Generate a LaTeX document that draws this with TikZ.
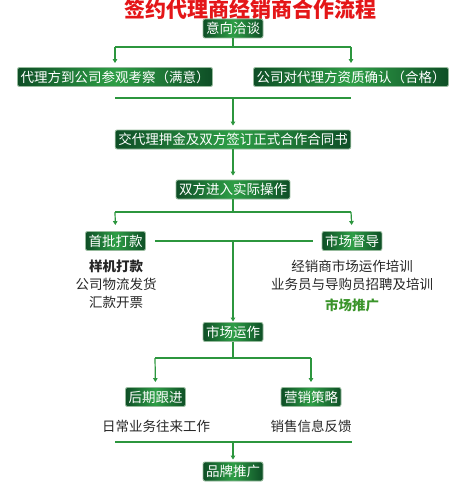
\documentclass[tikz,border=0pt]{standalone}
\usepackage{fontspec}
\setmainfont{Noto Sans CJK SC}
\usetikzlibrary{arrows.meta}
\definecolor{dkgreen}{RGB}{14,78,38}
\definecolor{ltgreen}{RGB}{46,158,70}
\definecolor{linegreen}{RGB}{44,150,62}
\definecolor{rimgrey}{RGB}{150,186,156}
\definecolor{titlered}{RGB}{228,22,24}
\definecolor{txtgrey}{RGB}{38,38,38}
\definecolor{pushgreen}{RGB}{58,148,42}
\tikzset{
  stagebox/.style={draw=rimgrey,line width=0.9pt,rounded corners=2pt,
    left color=dkgreen,right color=dkgreen,middle color=ltgreen,
    text=white,font=\fontsize{13.5}{14}\selectfont,
    inner xsep=3pt,inner ysep=0pt,minimum height=19pt},
  note/.style={text=txtgrey,font=\fontsize{13.5}{14}\selectfont,inner sep=0pt},
  flow/.style={linegreen,line width=1.2pt},
  flowarrow/.style={flow,-{Triangle[width=4.5pt,length=4pt]}},
}
\newcommand{\setup}{
    \coordinate (j1) at (233,47);  % split below first stage
    \coordinate (l1) at (115,47);
    \coordinate (r1) at (351,47);

    \coordinate (j2) at (233,98);  % join above deposit
    \coordinate (l2) at (115,98);
    \coordinate (r2) at (351,98);

    \coordinate (j3) at (233,212); % split below operation
    \coordinate (l3) at (115,212);
    \coordinate (r3) at (351,212);

    \coordinate (j4) at (233,358); % split below market operation
    \coordinate (l4) at (155,358);
    \coordinate (r4) at (311,358);

    \coordinate (j5) at (233,442); % join above brand
    \coordinate (l5) at (115,442);
    \coordinate (r5) at (352,442);
}
\begin{document}
\begin{tikzpicture}[x=1pt,y=-1pt]
          \useasboundingbox (0,0) rectangle (467,500);
          \setup;

          \node[text=titlered,font=\fontsize{21}{22}\selectfont\bfseries] (title) at (250,9) {签约代理商经销商合作流程};

          \node[stagebox] (b1) at (233,28.5) {意向洽谈};
          \node[stagebox] (b2) at (115,77) {代理方到公司参观考察（满意）};
          \node[stagebox] (b3) at (351,77) {公司对代理方资质确认（合格）};
          \node[stagebox] (b4) at (233,139.5) {交代理押金及双方签订正式合作合同书};
          \node[stagebox] (b5) at (233,189.5) {双方进入实际操作};
          \node[stagebox] (b6) at (115.5,241) {首批打款};
          \node[stagebox] (b7) at (352,241) {市场督导};
          \node[stagebox] (b8) at (233,332) {市场运作};
          \node[stagebox] (b9) at (155.5,397) {后期跟进};
          \node[stagebox] (b10) at (311,397) {营销策略};
          \node[stagebox] (b11) at (233,471.5) {品牌推广};

          \node[note,font=\fontsize{13.5}{14}\selectfont\bfseries] (n6a) at (116,266) {样机打款};
          \node[note] (n6b) at (116,284) {公司物流发货};
          \node[note] (n6c) at (116,302.5) {汇款开票};
          \node[note] (n7a) at (352,266) {经销商市场运作培训};
          \node[note] (n7b) at (352,284) {业务员与导购员招聘及培训};
          \node[note,text=pushgreen,font=\fontsize{13.5}{14}\selectfont\bfseries] (n7c) at (352,305.5) {市场推广};
          \node[note] (n9) at (156,426) {日常业务往来工作};
          \node[note] (n10) at (311,426) {销售信息反馈};

          \draw[flow] (b1.south) -- (j1);
          \draw[flow] (l1) -- (r1);
          \draw[flowarrow,shorten >=4pt] (l1) -- (b2.north);
          \draw[flowarrow,shorten >=4pt] (r1) -- (b3.north);

          \draw[flow] (l2) -- (r2);
          \draw[flowarrow,shorten >=4pt] (j2) -- (b4.north);
          \draw[flowarrow,shorten >=4pt] (b4.south) -- (b5.north);

          \draw[flow] (b5.south) -- (j3);
          \draw[flow] (l3) -- (r3);
          \draw[flowarrow,shorten >=6pt] (l3) -- (b6.north);
          \draw[flowarrow,shorten >=6pt] (r3) -- (b7.north);

          \draw[flow,shorten <=9pt,shorten >=9pt] (b6.east) -- (b7.west);
          \draw[flowarrow,shorten >=0.5pt] (b6.east -| b8.north) -- (b8.north);

          \draw[flow] (b8.south) -- (j4);
          \draw[flow] (l4) -- (r4);
          \draw[flowarrow,shorten >=5pt] (l4) -- (b9.north);
          \draw[flowarrow,shorten >=5pt] (r4) -- (b10.north);

          \draw[flow] (l5) -- (r5);
          \draw[flowarrow,shorten >=2pt] (j5) -- (b11.north);
        \end{tikzpicture}
\end{document}
